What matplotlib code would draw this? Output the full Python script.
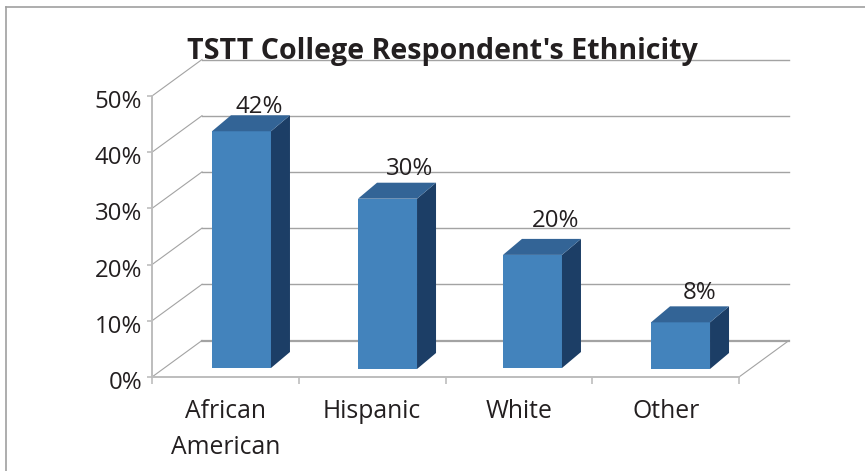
#!/usr/bin/env python3
"""Fake-3D column chart of TSTT college respondents' ethnicity."""
import matplotlib
matplotlib.use('Agg')
import matplotlib.pyplot as plt
from matplotlib.patches import Polygon, Rectangle
from matplotlib.transforms import ScaledTranslation

# ── data ──
categories = ['African\nAmerican', 'Hispanic', 'White', 'Other']
values = [42, 30, 20, 8]
value_labels = ['42%', '30%', '20%', '8%']
y_ticks = [0, 10, 20, 30, 40, 50]

# ── layout (pixels of the 865x471 canvas) ──
W, H = 865, 471
AX_L, AX_R, AX_T, AX_B = 152, 739, 96, 377
DEPTH_X, DEPTH_Y = 50, 36.5      # floor depth
BAR_X = [16.1, 15.4, 13.6, 14.9] # bar centre offset from the slot centre
BAR_Y = [9, 8, 9, 8]             # bar front face lifted off the front edge
BAR_DX, BAR_DY = 19, 16          # bar depth
BAR_W = 59
LABEL_X = [34, 37.5, 37, 33.5]   # value label offset from the slot centre
LABEL_Y = [8, 14, 18, 13]        # value label centre above the bar's back edge

FRONT = '#4383bc'
TOP = '#336496'
SIDE = '#1c3e66'
GRID = '#a3a3a3'
AXIS = '#bdbdbd'
TEXT = '#231f20'

plt.rcParams['font.family'] = ['Open Sans', 'DejaVu Sans']

fig = plt.figure(figsize=(W / 100, H / 100), dpi=100, facecolor='white')
ax = fig.add_axes([AX_L / W, 1 - AX_B / H, (AX_R - AX_L) / W, (AX_B - AX_T) / H])
ax.set_xlim(0, len(categories))
ax.set_ylim(0, y_ticks[-1])
ax.patch.set_visible(False)
for s in ax.spines.values():
    s.set_visible(False)

# pixel -> data scale
sx = len(categories) / (AX_R - AX_L)
sy = y_ticks[-1] / (AX_B - AX_T)
dx, dy = DEPTH_X * sx, DEPTH_Y * sy
n = len(categories)

# walls and floor lines
for v in y_ticks:
    lw = 1.6 if v == 0 else 1.0
    ax.plot([dx, n + dx], [v + dy, v + dy], color=GRID, lw=lw, clip_on=False, zorder=1)
    ax.plot([0, dx], [v, v + dy], color=GRID, lw=0.8, clip_on=False, zorder=1)
ax.plot([n, n + dx], [0, dy], color=GRID, lw=0.8, clip_on=False, zorder=1)

# front axes and ticks
ax.plot([0, 0], [0, y_ticks[-1]], color=AXIS, lw=1.4, clip_on=False, zorder=2)
ax.plot([0, n], [0, 0], color=AXIS, lw=1.4, clip_on=False, zorder=2)
ax.set_yticks(y_ticks)
ax.set_yticklabels([f'{v}%' for v in y_ticks], fontsize=17.3, color=TEXT)
ax.set_xticks(range(n + 1))
ax.set_xticklabels([])
ax.tick_params(axis='y', length=3.6, width=1.2, color=AXIS, pad=3.5)
ax.tick_params(axis='x', length=5, width=1.2, color=AXIS)
# the y labels sit a little below their ticks
shift = ScaledTranslation(0, -3 / 100, fig.dpi_scale_trans)
for lab in ax.get_yticklabels():
    lab.set_transform(lab.get_transform() + shift)

# bars
for i, v in enumerate(values):
    x0 = i + 0.5 + BAR_X[i] * sx - BAR_W * sx / 2
    x1 = x0 + BAR_W * sx
    y0 = BAR_Y[i] * sy
    y1 = v + 9 * sy + 0.7 * sy
    ddx, ddy = BAR_DX * sx, BAR_DY * sy
    ax.add_patch(Rectangle((x0, y0), x1 - x0, y1 - y0, fc=FRONT, ec='none', zorder=3, clip_on=False))
    ax.add_patch(Polygon([(x1, y0), (x1 + ddx, y0 + ddy), (x1 + ddx, y1 + ddy), (x1, y1)],
                         fc=SIDE, ec='none', zorder=3, clip_on=False))
    ax.add_patch(Polygon([(x0, y1), (x1, y1), (x1 + ddx, y1 + ddy), (x0 + ddx, y1 + ddy)],
                         fc=TOP, ec='none', zorder=3, clip_on=False))
    ax.text(i + 0.5 + LABEL_X[i] * sx, y1 + ddy + LABEL_Y[i] * sy, value_labels[i],
            ha='center', va='center', fontsize=17.3, color=TEXT, zorder=4)

# category labels
for i, c in enumerate(categories):
    ax.text(i + 0.5, -22 * sy, c, ha='center', va='top', fontsize=17.8,
            color=TEXT, linespacing=1.6, clip_on=False)

# title
fig.text(442.5 / W, 1 - 52 / H, "TSTT College Respondent's Ethnicity", ha='center', va='center',
         fontsize=20.6, fontweight='bold', color=TEXT)

# outer frame
fig.add_artist(plt.Line2D([6 / W, 6 / W], [0, 1 - 7 / H], color='#a0a0a0', lw=1.2))
fig.add_artist(plt.Line2D([6 / W, 1], [1 - 7 / H, 1 - 7 / H], color='#a0a0a0', lw=1.2))

fig.savefig('out.png', dpi=100, facecolor='white')
